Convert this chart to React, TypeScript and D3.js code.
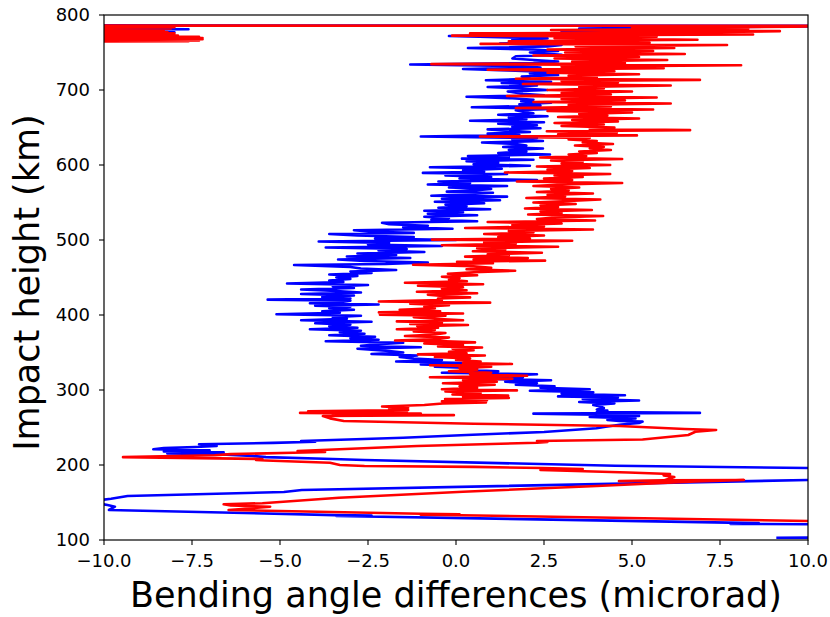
import React from 'react';
import * as d3 from 'd3';

// [impact height (km), bending angle difference (microrad)]
const blueLow: [number, number][] = [
  [103, 9.1], [103.5, 12], [110, 15], [120.5, 12], [121.5, 7.8], [122.5, 8.6], [123.2, 7.75],
  [132, -3.4], [132.6, -2.4], [133.2, -3.45], [140, -9.86], [144.4, -9.69], [146.7, -9.9],
  [148, -10.05], [153.3, -10.1], [155, -9.8], [158.7, -9.33], [164, -4.89], [166.7, -4.38],
  [180, 10], [184, 14], [192, 14], [196, 10], [199, 4.52], [206.7, -2.6], [208, -3.5],
  [210.5, -5.4], [212, -5.8], [214.5, -6.8], [215.5, -8.2], [217, -6.6], [218, -8.3],
  [219.5, -7.0], [221, -8.6], [222.5, -8.3], [224, -7.4], [225.5, -6.8], [227.6, -7.3],
  [229.5, -5.2], [231, -4.0], [232, -4.4], [236.4, -1.5], [240, 0.3], [244, 2.5],
  [248.9, 3.99], [251, 4.25], [254, 4.7], [256, 5.2], [257.8, 5.3], [258.7, 4.64],
  [260, 4.3], [262, 5.1], [264, 3.8], [265.5, 5.2], [267, 4.0], [268.5, 2.2], [269.5, 6.93],
  [270.5, 4.0],
];

const blueMid: [number, number][] = [
  [272.5, 4.3], [274, 4.0], [276, 4.2], [278, 4.1], [280, 3.9], [282, 4.5], [284, 3.5],
  [286, 5.2], [288, 3.6], [290, 4.6], [291.5, 2.9], [293, 4.8], [295, 3.0], [297, 3.9],
  [299, 2.1], [301, 3.8], [303, 2.4], [305, 2.8], [307, 1.7], [309, 2.3], [311, 1.4],
  [313, 2.7], [315, 0.8], [317, 1.9], [319, 1.3], [321, 2.3], [323, -0.4], [325, 1.2],
  [327, 0.2], [329, 0.6], [331, -0.6], [332.5, 0.2], [334, -1.0], [336, 0.3], [338, -1.7],
  [340, -0.4], [342, -1.2], [344, -1.6], [346, -1.1], [348, -2.4], [350, -1.5], [352, -1.9],
  [355, -2.8], [357, -1.0], [359, -2.7], [361, -2.2], [363, -1.5], [365, -3.7], [367, -2.2],
  [369, -3.0], [371, -2.3], [373, -3.6], [375, -2.6], [377, -3.3], [379, -2.7], [381, -4.15],
  [383, -2.8], [385, -3.6], [387, -3.0], [389, -4.0], [391, -2.4], [393, -4.4], [395, -3.1],
  [397, -3.5], [399, -2.7], [401, -5.1], [403, -3.3], [405, -3.8], [407, -2.9], [409, -3.6],
  [411, -3.0], [412.5, -4.0], [414, -2.2], [415.6, -4.15], [417, -3.3], [419, -3.0],
  [420.5, -5.35], [422, -3.0], [424, -3.8], [426, -2.9], [428, -4.4], [430, -2.7], [432, -3.4],
  [434, -4.4], [436, -2.9], [438, -3.5], [440, -2.5], [442, -4.8], [444, -3.2], [446, -3.6],
  [448, -3.0], [450, -3.4], [452, -2.8], [454, -3.6], [456, -2.4], [458, -3.0], [460, -1.7],
  [462, -2.7], [464, -3.0], [466.7, -4.6], [468, -2.0], [470, -0.8], [472, -2.6], [474, -3.35],
  [476, -1.3], [478, -3.1], [480, -1.7], [482, -2.8], [484, -0.9], [486, -2.2], [488, -1.4],
  [490, -3.7], [492, -0.4], [494, -2.5], [496, -1.9], [498, -3.9], [500, 0.0], [502, -2.3],
  [504, -1.2], [506, -2.8], [508, -3.6], [509.5, -1.2], [511, -2.4], [513, -2.9], [515, -0.1],
  [517, -1.5], [519, -0.8], [521, -1.9], [523, -2.1], [525, 0.6], [527, -0.7], [529, -0.2],
  [531, -0.9], [533, 0.6], [535, -0.8], [537, 0.2], [539, -0.9], [541, 0.97], [543, -0.5],
];

const blueHigh: [number, number][] = [
  [545, 0.3], [547, -0.3], [549, 0.8], [551, -0.6], [553, 1.25], [555, -0.4], [557.8, 1.45],
  [559, -0.7], [561, 0.3], [563, 1.05], [564.5, -0.26], [566, 0.5], [568, 1.0], [570, -0.2],
  [572, 1.45], [574, -0.8], [576, 0.4], [578, -0.5], [580, 2.3], [582, 0.1], [584, 1.0],
  [586, -0.3], [588, 1.45], [589.5, -0.94], [591, 0.8], [593, 0.2], [595, 1.3], [597, -0.74],
  [599, 2.1], [601, 0.5], [603, 1.2], [605, 0.3], [607, 2.2], [608.5, 0.17], [610, 1.5],
  [612, 0.34], [614, 2.67], [616, 1.2], [618, 2.0], [620, 1.5], [622, 2.47], [624, 1.34],
  [626, 2.0], [628, 1.7], [630, 0.74], [632, 2.47], [634, 1.6], [636, 2.3], [638, -1.0],
  [640, 1.8], [642, 0.9], [644, 2.1], [646, 1.4], [647.5, 0.9], [649, 2.4], [651, 1.6],
  [653, 2.3], [655, 1.2], [657, 2.5], [659, 0.4], [661, 2.0], [663, 1.5], [665, 2.6],
  [667, 1.2], [669, 2.2], [671, 1.9], [673, 1.7], [675, 2.9], [677, 0.45], [679, 2.4],
  [681, 1.8], [683, 2.7], [685, 1.85], [687, 2.2], [689, 1.6], [691, 0.3], [693, 2.5],
  [695, 1.9], [698, 1.47], [700, 2.6], [702, 1.9], [704, 0.9], [706, 2.3], [708, 2.0],
  [709.5, 1.3], [711, 2.7], [713, 0.85], [715, 2.1], [718, 1.87], [720, 2.9], [722, 2.1],
  [724, 2.6], [726, 1.5], [728, 0.2], [730, 2.4], [732, 1.8], [734, -1.3], [736, 2.2],
  [738, 2.9], [740, 2.2], [742, 1.6], [745, 1.7], [747, 3.0], [750, 2.1], [752, 2.9],
  [754, 2.2], [756, 0.34], [758, 2.6], [760, 3.0], [762, 1.25], [764, 3.3], [767, 1.6],
  [769, 2.6], [772, -0.2], [774, 3.2], [776, 4.5], [778, 3.0], [780, 6.0], [782, 3.5],
  [784, 8.0], [785.5, 12],
];

const blueTop: [number, number][] = [
  [786.2, -12], [785, -9.6], [784, -12], [783, -9.5], [782, -12], [781, -7.6], [780, -12],
  [779, -9.4], [778, -12], [777, -8.0], [776, -12], [775, -9.6], [774, -12], [773, -9.5],
  [772, -12], [770, -9.6], [768, -12], [766, -9.6], [765, -12],
];

const redLow: [number, number][] = [
  [110, 15], [125.3, 10], [133, 0.14], [133.6, -1.0], [134.3, 0.1], [135, -1.0], [140, -6.46],
  [142, -5.9], [144.4, -5.28], [146, -6.4], [147.6, -6.6], [149, -5.5], [156.4, -3.32],
  [164.4, 0.2], [172, 4.0], [178, 6.8], [180, 8.18], [179.5, 5.9], [178.5, 4.63], [179, 5.88],
  [184, 6.2], [186, 5.9], [188, 6.08], [190, 4.9], [193.3, 2.4], [194.7, 3.6], [196, 2.45],
  [197.5, 0.5], [198.7, -2.6], [200, -3.3], [203, -3.58], [206, -5.4], [206.7, -5.68],
  [208, -5.5], [210.5, -9.46], [213, -6.85], [214.5, -6.4], [216.4, -4.63], [217.5, -3.72],
  [218.7, -4.5], [225.3, -1.1], [229.7, 2.3], [230.8, 2.6], [232, 2.3], [234, 5.3],
  [240, 6.6], [244.4, 6.8], [246.7, 7.39], [248, 6.5], [252, 4.64], [255, 0.5], [258.7, -3.19],
  [262.2, -3.58], [265.3, -3.78], [266.5, -0.06], [267.5, -3.5], [268.5, -1.0], [269.5, -4.43],
  [270.5, -1.4], [271.5, -4.2], [273.3, -1.36], [275, -1.9], [276.4, -1.36], [278, -2.1],
  [280, -0.9],
];

const redMid: [number, number][] = [
  [282, -0.38], [283.5, 0.85], [285, -0.4], [286.5, 0.88], [288, -0.31], [289.5, 1.5],
  [291, 0.2], [292.5, 1.48], [294, -0.1], [296, 0.7], [298, -0.3], [299.5, 1.73], [301, -0.4],
  [303, 0.6], [305, 0.1], [307, 1.1], [309, -0.37], [311, 1.16], [313, 0.2], [315, 1.6],
  [317, -0.74], [319, 2.02], [321, 0.4], [323, 1.0], [325, -0.2], [327, 0.6], [329, 0.1],
  [331, 1.0], [333, -0.74], [334.7, 1.59], [336, 0.2], [338, 0.7], [340, 0.0], [342, 0.4],
  [344, -0.6], [346, 0.82], [347.5, -1.08], [349, 0.3], [351, -0.2], [353, 0.5], [355, -0.1],
  [356.6, 0.74], [358, -0.51], [360, 0.2], [362, -0.9], [363.5, 0.54], [365, -0.3],
  [366, -1.73], [368, -0.5], [370, -0.2], [372, -1.45], [374, -0.6], [376, -0.3], [378, -1.2],
  [380, -0.6], [381, -1.68], [383, -0.51], [385, -1.1], [386.7, 0.34], [388, -1.3], [390, -0.4],
  [391.5, -1.68], [393, 0.2], [395, -0.6], [397, -1.2], [399, -0.3], [400.5, -2.16], [402, 0.2],
  [403.5, -2.19], [405, -0.45], [407, -1.6], [409, -0.6], [411, -0.9], [413, -0.2], [415, -1.3],
  [416.5, 0.97], [418, -2.19], [420, -0.4], [422, -0.51], [423.5, 0.4], [425, -0.3], [427, -0.8],
  [429, 0.6], [431, -1.11], [433, 0.3], [435, -0.4], [437, 0.2], [439, -1.08], [441, 0.77],
  [443, -1.45], [445, 0.31], [447, -0.2], [449, 0.1], [451, -0.4], [453, 0.6], [455, -0.23],
  [457, 0.5], [459, 1.68], [461, 0.3], [463, 1.0], [465, 0.5], [467, -1.22], [469, 1.05],
  [471, 0.03], [472.5, 2.53], [474, 0.5], [476, 2.04], [477.8, 0.26], [479.5, 1.5], [481, 0.9],
  [483, 2.44], [485, 0.48], [487, 1.4], [489, 0.6], [491, 2.9], [493, -0.4], [495, 1.7],
  [497, 0.8], [499, 3.3], [500.5, -0.68], [502, 2.1], [504, 1.2], [506, 2.5], [508, 0.8],
  [510, 2.2], [512, 1.5], [514, 3.89], [516, 0.26], [518, 2.5], [520, 1.6], [522, 3.0],
  [524, 0.9], [526, 3.95], [528, 2.3], [530, 2.8], [532, 4.18], [534, 2.05], [536, 3.0],
  [538, 2.4], [540, 3.86], [542, 1.96], [544, 2.9],
];

const redHigh: [number, number][] = [
  [546, 2.4], [548, 3.4], [550, 2.2], [552, 3.2], [554, 4.1], [556, 2.0], [558, 3.1],
  [560, 2.6], [562, 3.89], [564, 2.3], [566, 3.2], [568, 2.7], [570, 3.5], [572, 2.2],
  [574, 3.0], [576, 4.72], [578, 1.73], [580, 3.3], [582, 2.5], [584, 3.6], [586, 2.8],
  [588, 4.38], [590, 1.39], [592, 3.3], [594, 2.6], [596, 3.8], [598, 2.3], [600, 4.38],
  [602, 3.0], [604, 3.6], [606, 2.7], [608, 4.72], [610, 2.39], [612, 3.7], [614, 3.2],
  [616, 4.0], [618, 3.5], [620, 4.4], [622, 3.8], [624, 4.2], [626, 3.38], [628, 4.46],
  [630, 3.6], [632, 4.0], [634, 3.2], [636, 3.8], [638, 0.68], [639.5, 5.14], [641, 2.9],
  [643, 4.57], [645, 2.58], [646.5, 6.65], [648, 3.8], [650, 4.5], [652, 3.0], [654, 4.2],
  [656, 2.8], [658, 4.6], [660, 3.3], [662, 5.2], [664, 2.9], [666, 4.3], [668, 3.5],
  [670, 5.0], [672, 2.6], [674, 5.6], [676, 1.7], [678, 4.4], [680, 3.2], [682, 6.1],
  [684, 2.2], [686, 4.8], [688, 3.0], [690, 5.7], [692, 1.45], [694, 4.4], [696, 3.0],
  [698, 5.0], [700, 2.6], [702, 4.2], [704, 3.5], [706, 6.1], [708, 1.9], [710, 4.6],
  [712, 3.0], [713.5, 6.93], [715, 1.7], [717, 4.0], [719, 3.2], [721, 5.2], [723, 2.6],
  [725, 4.5], [727, 0.9], [729, 5.9], [731, 3.0], [733, 8.1], [734.5, -0.7], [736, 4.8],
  [738, 3.3], [740, 6.0], [742, 2.8], [744, 5.2], [746, 2.2], [748, 6.5], [750, 3.1],
  [752, 5.6], [754, 2.6], [756, 6.2], [758, 3.4], [760, 7.7], [761.5, 0.7], [763, 5.5],
  [765, 1.5], [767, 6.86], [769, 2.8], [771, 5.7], [772.5, -0.11], [774, 8.44], [775.5, 0.4],
  [777, 6.86], [778.5, 9.2], [780, 2.7], [781.5, 8.3], [783, 5.0], [784.5, 9.6], [785.5, 12],
];

const redTop: [number, number][] = [
  [786, -12], [785.3, -8.0], [784.5, -12], [783.7, -8.0], [782.9, -12], [782.1, -8.1],
  [781.3, -12], [780.5, -8.3], [779.7, -12], [778.9, -8.4], [778.1, -12], [777.3, -8.2],
  [776.5, -12], [775.7, -8.0], [774.9, -12], [774.1, -8.0], [773.3, -12], [772.5, -7.9],
  [771.7, -12], [770.9, -7.3], [770.1, -12], [769.3, -7.2], [768.5, -12], [767.7, -7.2],
  [766.9, -12], [766.1, -7.3], [765.3, -12], [765, -7.6], [764.8, -12],
];

const xTicks = [-10, -7.5, -5, -2.5, 0, 2.5, 5, 7.5, 10];
const yTicks = [100, 200, 300, 400, 500, 600, 700, 800];
const xLabel = 'Bending angle differences (microrad)';
const yLabel = 'Impact height (km)';

const blueSeries = [...blueLow, ...blueMid, ...blueHigh, ...blueTop];
const redSeries = [...redLow, ...redMid, ...redHigh, ...redTop];

export default function App() {
  const W = 830, H = 617;
  const L = 104, R = 808, T = 15, B = 540;
  const x = d3.scaleLinear().domain([-10, 10]).range([L, R]);
  const y = d3.scaleLinear().domain([100, 800]).range([B, T]);
  const line = d3.line<[number, number]>().x(d => x(d[1])).y(d => y(d[0]));
  const fmt = (v: number) => (v < 0 ? '\u2212' : '') + Math.abs(v).toFixed(1);
  const font = 'DejaVu Sans';
  return (
    <svg width={W} height={H} style={{ position: 'absolute', left: 0, top: 0, background: '#fff' }}
      fontFamily={font}>
      <defs>
        <clipPath id="plot"><rect x={L} y={T} width={R - L} height={B - T} /></clipPath>
      </defs>
      <rect x={0} y={0} width={W} height={H} fill="#fff" />
      <g clipPath="url(#plot)" fill="none" strokeWidth={2.6} strokeLinejoin="round">
        <path d={line(blueSeries) || ''} stroke="#0000ff" />
        <path d={line(redSeries) || ''} stroke="#ff0000" />
      </g>
      <rect x={L} y={T} width={R - L} height={B - T} fill="none" stroke="#000" strokeWidth={1.2} />
      {xTicks.map(t => (
        <g key={'x' + t}>
          <line x1={x(t)} x2={x(t)} y1={B} y2={B + 5} stroke="#000" strokeWidth={1.1} />
          <text x={x(t)} y={B + 27} textAnchor="middle" fontSize={18}>{fmt(t)}</text>
        </g>
      ))}
      {yTicks.map(t => (
        <g key={'y' + t}>
          <line x1={L - 5} x2={L} y1={y(t)} y2={y(t)} stroke="#000" strokeWidth={1.1} />
          <text x={L - 14} y={y(t)} dy="0.36em" textAnchor="end" fontSize={18}>{t}</text>
        </g>
      ))}
      <text x={(L + R) / 2} y={607} textAnchor="middle" fontSize={35}>{xLabel}</text>
      <text transform={`translate(39,${(T + B) / 2 + 5}) rotate(-90)`} textAnchor="middle" fontSize={35}>{yLabel}</text>
    </svg>
  );
}
